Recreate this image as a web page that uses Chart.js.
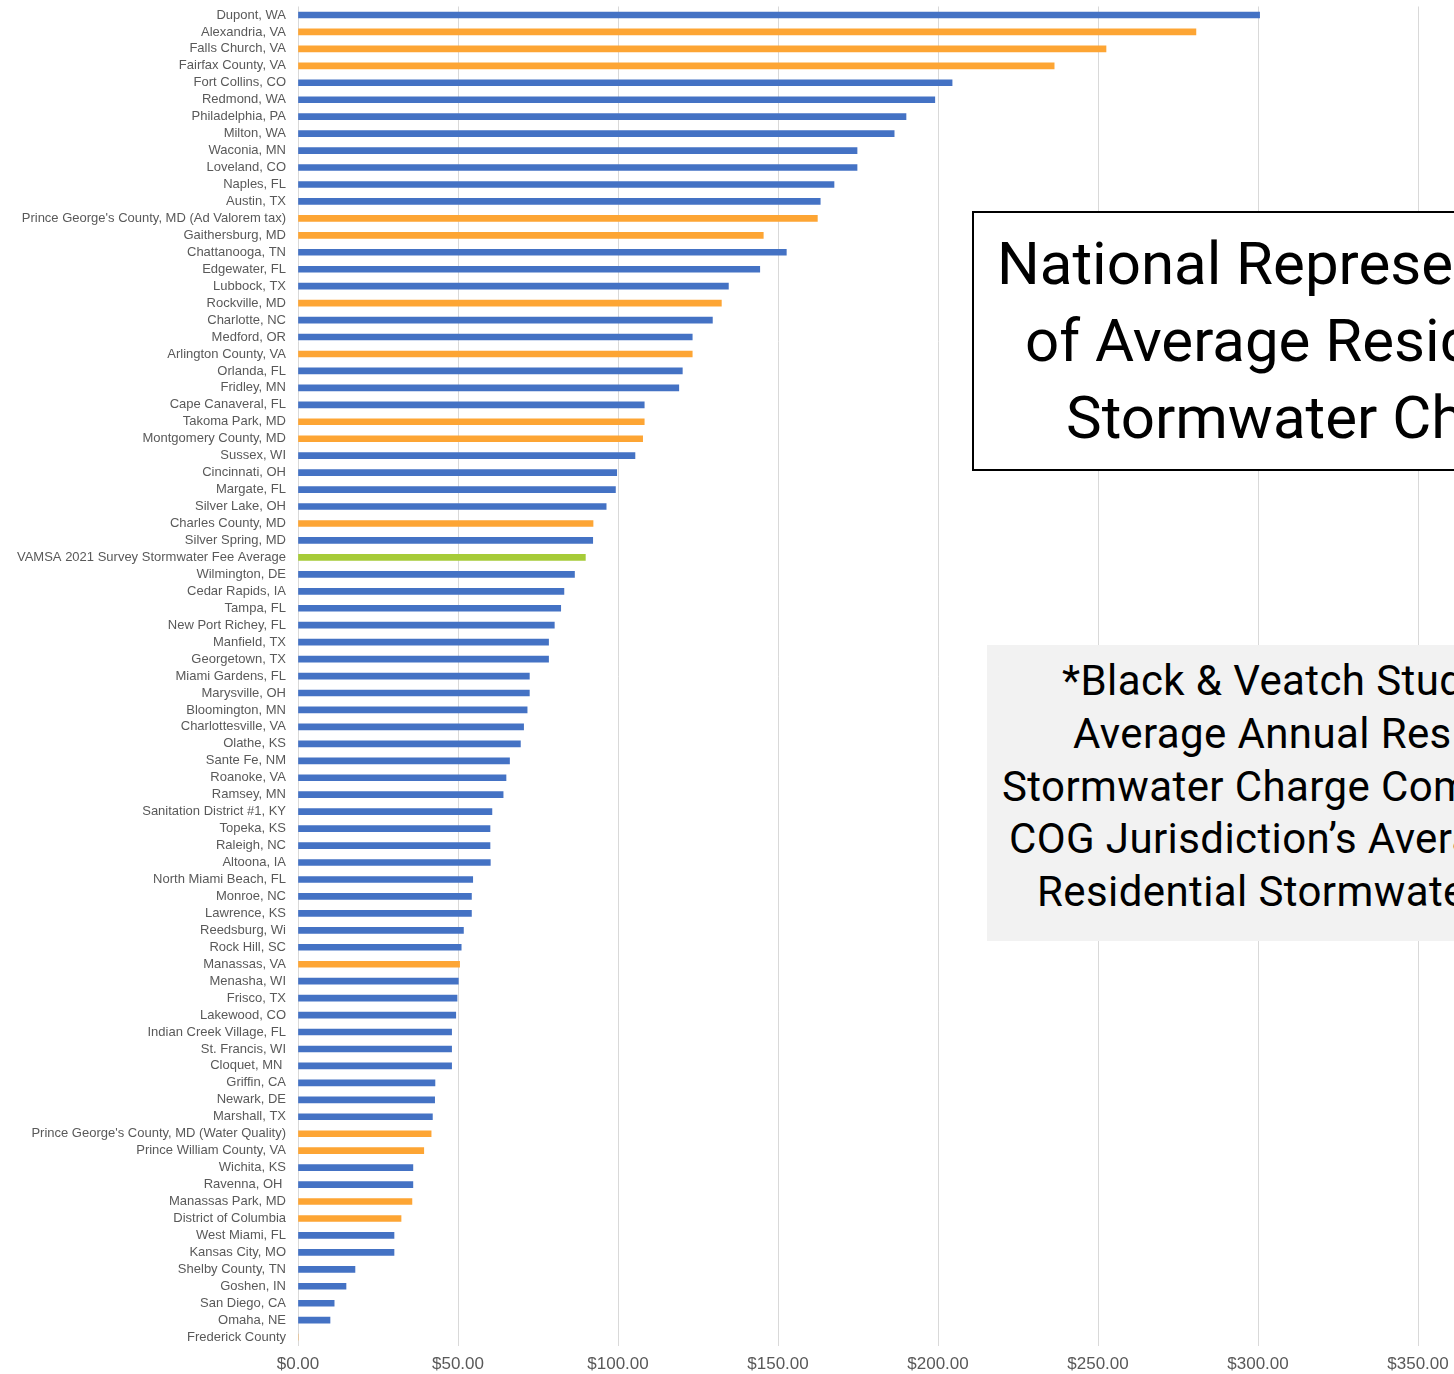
<!DOCTYPE html>
<html>
<head>
<meta charset="utf-8">
<title>Residential Stormwater Charges</title>
<script src="https://cdn.jsdelivr.net/npm/chart.js@4.4.1/dist/chart.umd.min.js"></script>
<style>
  html, body { margin: 0; padding: 0; background: #fff; width: 1454px; height: 1374px; overflow: hidden; }
  #wrap { position: relative; width: 1618px; height: 1384px; }
  #chart { position: absolute; left: 0; top: 0; }
  .box { position: absolute; white-space: nowrap; color: #000; font-family: Roboto, "Liberation Sans", sans-serif; }
  #titleBox { left: 972px; top: 211px; width: 720px; height: 260px; border: 2px solid #000; background: #fff;
              font-size: 60px; line-height: 77px; padding-top: 12px; box-sizing: border-box; }
  #noteBox { left: 987px; top: 645px; width: 720px; height: 296px; background: #f2f2f2;
             font-size: 42px; letter-spacing: 0.4px; line-height: 52.75px; padding-top: 10px; box-sizing: border-box; }
  .box div { display: block; }
</style>
</head>
<body>
<div id="wrap">
  <canvas id="chart" width="1618" height="1384"></canvas>
  <div class="box" id="titleBox">
    <div style="margin-left:23px">National Representation</div>
    <div style="margin-left:51px">of Average Residential</div>
    <div style="margin-left:92px">Stormwater Charges</div>
  </div>
  <div class="box" id="noteBox">
    <div style="margin-left:75px">*Black &amp; Veatch Study</div>
    <div style="margin-left:86px">Average Annual Residential</div>
    <div style="margin-left:15px">Stormwater Charge Compared to</div>
    <div style="margin-left:22px">COG Jurisdiction’s Average</div>
    <div style="margin-left:50px">Residential Stormwater Charge</div>
  </div>
</div>
<script>
// jurisdictions, top to bottom
const jurisdictions = [
  'Dupont, WA', 'Alexandria, VA', 'Falls Church, VA', 'Fairfax County, VA', 'Fort Collins, CO',
  'Redmond, WA', 'Philadelphia, PA', 'Milton, WA', 'Waconia, MN', 'Loveland, CO',
  'Naples, FL', 'Austin, TX', "Prince George's County, MD (Ad Valorem tax)", 'Gaithersburg, MD', 'Chattanooga, TN',
  'Edgewater, FL', 'Lubbock, TX', 'Rockville, MD', 'Charlotte, NC', 'Medford, OR',
  'Arlington County, VA', 'Orlanda, FL', 'Fridley, MN', 'Cape Canaveral, FL', 'Takoma Park, MD',
  'Montgomery County, MD', 'Sussex, WI', 'Cincinnati, OH', 'Margate, FL', 'Silver Lake, OH',
  'Charles County, MD', 'Silver Spring, MD', 'VAMSA 2021 Survey Stormwater Fee Average', 'Wilmington, DE', 'Cedar Rapids, IA',
  'Tampa, FL', 'New Port Richey, FL', 'Manfield, TX', 'Georgetown, TX', 'Miami Gardens, FL',
  'Marysville, OH', 'Bloomington, MN', 'Charlottesville, VA', 'Olathe, KS', 'Sante Fe, NM',
  'Roanoke, VA', 'Ramsey, MN', 'Sanitation District #1, KY', 'Topeka, KS', 'Raleigh, NC',
  'Altoona, IA', 'North Miami Beach, FL', 'Monroe, NC', 'Lawrence, KS', 'Reedsburg, Wi',
  'Rock Hill, SC', 'Manassas, VA', 'Menasha, WI', 'Frisco, TX', 'Lakewood, CO',
  'Indian Creek Village, FL', 'St. Francis, WI', 'Cloquet, MN ', 'Griffin, CA', 'Newark, DE',
  'Marshall, TX', "Prince George's County, MD (Water Quality)", 'Prince William County, VA', 'Wichita, KS', 'Ravenna, OH ',
  'Manassas Park, MD', 'District of Columbia', 'West Miami, FL', 'Kansas City, MO', 'Shelby County, TN',
  'Goshen, IN', 'San Diego, CA', 'Omaha, NE', 'Frederick County'
];

// average annual residential charge ($)
const annualCharge = [
  300.5, 280.6, 252.5, 236.3, 204.4,
  199.0, 190.0, 186.3, 174.7, 174.7,
  167.5, 163.2, 162.3, 145.4, 152.6,
  144.3, 134.5, 132.3, 129.5, 123.2,
  123.2, 120.1, 119.0, 108.2, 108.2,
  107.7, 105.3, 99.6, 99.2, 96.3,
  92.2, 92.1, 89.8, 86.4, 83.1,
  82.1, 80.1, 78.3, 78.3, 72.3,
  72.3, 71.6, 70.5, 69.5, 66.1,
  65.0, 64.1, 60.6, 60.0, 60.0,
  60.1, 54.6, 54.2, 54.2, 51.7,
  51.0, 50.5, 50.1, 49.7, 49.3,
  48.0, 48.0, 48.0, 42.8, 42.7,
  42.0, 41.6, 39.3, 35.9, 35.9,
  35.6, 32.2, 30.0, 30.0, 17.8,
  15.0, 11.3, 10.0, 0
];

// COG member jurisdictions (orange) and the survey average (green)
const cogMembers = [
  'Alexandria, VA', 'Falls Church, VA', 'Fairfax County, VA', "Prince George's County, MD (Ad Valorem tax)",
  'Gaithersburg, MD', 'Rockville, MD', 'Arlington County, VA', 'Takoma Park, MD', 'Montgomery County, MD',
  'Charles County, MD', 'Manassas, VA', "Prince George's County, MD (Water Quality)", 'Prince William County, VA',
  'Manassas Park, MD', 'District of Columbia', 'Frederick County'
];
const surveyAverage = ['VAMSA 2021 Survey Stormwater Fee Average'];

const xTicks = [0, 50, 100, 150, 200, 250, 300, 350, 400];

function barColor(name) {
  if (surveyAverage.includes(name)) return '#A6CB38';
  if (cogMembers.includes(name)) return '#FDA534';
  return '#4472C4';
}

const labelFont = { family: "'Liberation Sans', Arial, sans-serif", size: 13 };

new Chart(document.getElementById('chart'), {
  type: 'bar',
  data: {
    labels: jurisdictions,
    datasets: [{
      data: annualCharge,
      backgroundColor: jurisdictions.map(barColor),
      borderWidth: 0,
      barThickness: 6
    }]
  },
  options: {
    indexAxis: 'y',
    responsive: false,
    animation: false,
    devicePixelRatio: 1,
    layout: { padding: { top: 6.5, right: 40, bottom: 0, left: 0 } },
    plugins: { legend: { display: false }, tooltip: { enabled: false } },
    scales: {
      x: {
        min: xTicks[0],
        max: xTicks[xTicks.length - 1],
        afterBuildTicks: scale => { scale.ticks = xTicks.map(v => ({ value: v })); },
        ticks: {
          color: '#595959',
          font: { family: "'Liberation Sans', Arial, sans-serif", size: 17 },
          padding: 9,
          maxRotation: 0,
          callback: v => '$' + Number(v).toFixed(2)
        },
        grid: { color: '#d9d9d9', lineWidth: 1, drawTicks: false },
        border: { display: false }
      },
      y: {
        // fixed label column, no extra vertical padding from the tick labels
        afterFit: scale => {
          scale.width = 298;
          scale.paddingTop = 0;
          scale.paddingBottom = 0;
        },
        ticks: { autoSkip: false, color: '#595959', font: labelFont, padding: 12 },
        grid: { display: false, drawTicks: false },
        border: { display: false }
      }
    }
  }
});
</script>
</body>
</html>
